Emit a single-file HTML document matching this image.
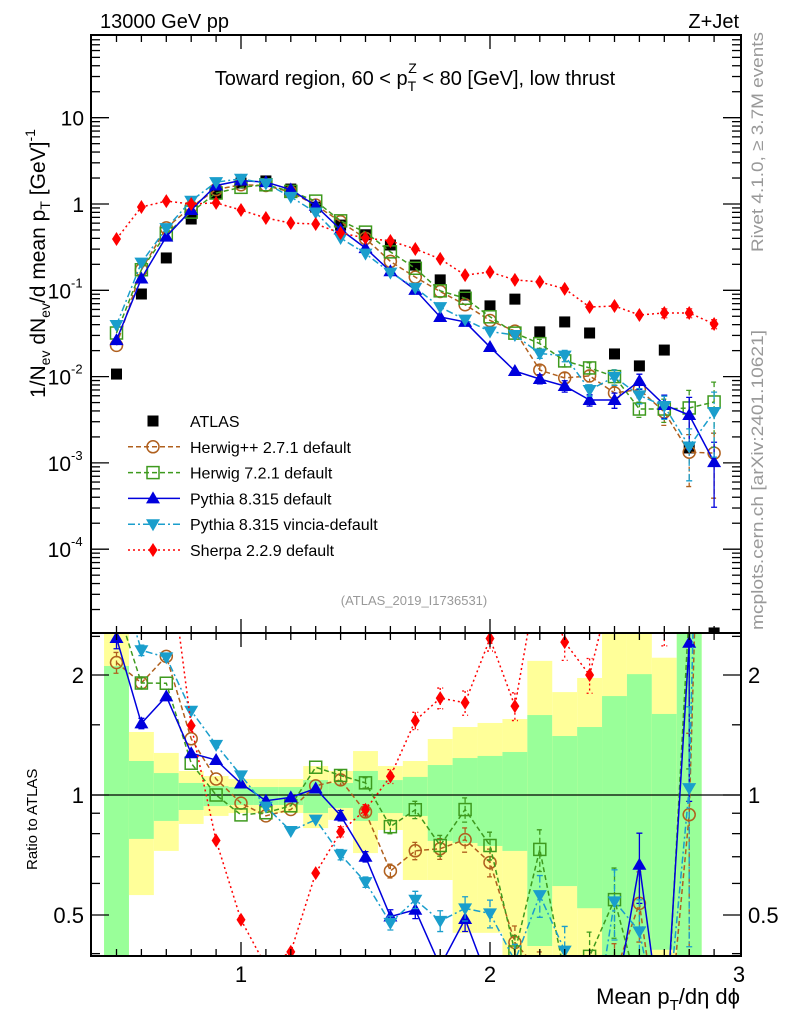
<!DOCTYPE html>
<html><head><meta charset="utf-8"><style>
html,body{margin:0;padding:0;background:#fff;overflow:hidden;width:786px;height:1024px;}
svg{display:block;font-family:"Liberation Sans","DejaVu Sans",sans-serif;}
</style></head><body>
<svg id="chart" width="786" height="1024" viewBox="0 0 786 1024" xmlns="http://www.w3.org/2000/svg">
<defs>
<clipPath id="cm"><rect x="91" y="35" width="650" height="598"/></clipPath>
<clipPath id="cr"><rect x="91" y="633" width="650" height="323"/></clipPath>
</defs>
<g id="bands" clip-path="url(#cr)"></g>
<g id="ratio" clip-path="url(#cr)"></g>
<g id="main" clip-path="url(#cm)"></g>
<g id="axes"></g>
<text x="100" y="28" font-size="20">13000 GeV pp</text>
<text x="739" y="28" font-size="20" text-anchor="end">Z+Jet</text>
<text x="415" y="85" font-size="20" text-anchor="middle">Toward region, 60 &lt; p<tspan font-size="14" dy="6">T</tspan><tspan font-size="14" dx="-8" dy="-18">Z</tspan><tspan dy="12"> &lt; 80 [GeV], low thrust</tspan></text>
<text x="414" y="605" font-size="13" fill="#999" text-anchor="middle">(ATLAS_2019_I1736531)</text>
<text transform="translate(45,398) rotate(-90)" font-size="21">1/N<tspan font-size="14" dy="5">ev</tspan><tspan dy="-5"> dN</tspan><tspan font-size="14" dy="5">ev</tspan><tspan dy="-5">/d mean p</tspan><tspan font-size="14" dy="5">T</tspan><tspan dy="-5"> [GeV]</tspan><tspan font-size="14" dy="-10">-1</tspan></text>
<text transform="translate(37,870) rotate(-90)" font-size="15">Ratio to ATLAS</text>
<text transform="translate(763,252) rotate(-90)" font-size="17" fill="#999" textLength="220" lengthAdjust="spacingAndGlyphs">Rivet 4.1.0, ≥ 3.7M events</text>
<text transform="translate(763,630) rotate(-90)" font-size="17" fill="#999" textLength="300" lengthAdjust="spacingAndGlyphs">mcplots.cern.ch [arXiv:2401.10621]</text>
<text x="740" y="1004" font-size="22" text-anchor="end">Mean p<tspan font-size="15" dy="6">T</tspan><tspan dy="-6">/dη dϕ</tspan></text>
<g id="legend"></g>
</svg>
<script>
const xVals=[0.5,0.6,0.7,0.8,0.9,1.0,1.1,1.2,1.3,1.4,1.5,1.6,1.7,1.8,1.9,2.0,2.1,2.2,2.3,2.4,2.5,2.6,2.7,2.8,2.9];
const atlas=[0.0107,0.0906,0.237,0.67,1.34,1.75,1.85,1.49,0.92,0.57,0.44,0.335,0.196,0.132,0.088,0.066,0.079,0.033,0.043,0.032,0.0183,0.0133,0.0203,0.00149,0.0000107];
const herwigpp=[0.023,0.173,0.528,0.927,1.47,1.67,1.64,1.37,0.97,0.622,0.399,0.216,0.142,0.0968,0.068,0.0447,0.0337,0.0119,0.00964,0.0102,0.00646,0.00711,0.00389,0.00133,0.0013];
const herwig7=[0.032,0.173,0.452,0.805,1.34,1.56,1.67,1.40,1.08,0.638,0.472,0.279,0.180,0.0986,0.0809,0.0493,0.0319,0.0241,0.0152,0.0126,0.0100,0.00421,0.00421,0.00433,0.00508];
const pythia=[0.0265,0.137,0.419,0.853,1.64,1.87,1.79,1.47,0.955,0.506,0.308,0.166,0.101,0.0491,0.043,0.022,0.0116,0.00938,0.00778,0.00536,0.00536,0.00889,0.00469,0.00359,0.00102];
const vincia=[0.0396,0.209,0.525,1.09,1.79,1.96,1.73,1.21,0.798,0.404,0.266,0.160,0.107,0.0638,0.0457,0.0333,0.0303,0.0185,0.0175,0.0070,0.0099,0.00605,0.00456,0.00155,0.00389];
const sherpa=[0.393,0.923,1.08,1.0,1.03,0.851,0.688,0.602,0.586,0.461,0.404,0.373,0.301,0.231,0.150,0.163,0.132,0.125,0.104,0.064,0.0658,0.0518,0.0546,0.0546,0.0407];
const mcRelErr=[0.06,0.03,0.02,0.02,0.02,0.02,0.02,0.02,0.02,0.03,0.03,0.04,0.05,0.06,0.07,0.08,0.1,0.12,0.15,0.15,0.2,0.2,0.3,0.6,0.7];
const sherpaRelErr=[0.03,0.02,0.02,0.02,0.02,0.02,0.02,0.02,0.02,0.03,0.03,0.04,0.05,0.06,0.07,0.07,0.08,0.08,0.1,0.1,0.1,0.1,0.12,0.12,0.12];
const bandGreenHi=[2.107,1.217,1.135,1.072,1.053,1.047,1.047,1.047,1.090,1.072,1.149,1.090,1.110,1.189,1.238,1.253,1.282,1.587,1.406,1.481,1.771,2.01,1.597,3,null];
const bandGreenLo=[0.3,0.776,0.861,0.917,0.938,0.944,0.944,0.944,0.901,0.928,0.861,0.901,0.886,0.767,0.758,0.745,0.724,0.418,0.591,0.520,0.3,0.3,0.409,0.3,null];
const bandYellowHi=[3,1.439,1.275,1.149,1.116,1.097,1.097,1.097,1.182,1.149,1.289,1.182,1.217,1.382,1.481,1.516,1.551,2.17,1.812,1.966,3,3,2.21,3,null];
const bandYellowLo=[0.3,0.561,0.724,0.846,0.886,0.901,0.901,0.901,0.826,0.866,0.715,0.817,0.612,0.612,0.451,0.451,0.3,0.3,0.3,0.3,0.3,0.3,0.3,0.3,null];
const xTickLabels=["1","2","3"];
const mainTickLabels=["10","1","10","10","10","10"];
const mainTickExp=[null,null,"-1","-2","-3","-4"];
const ratioTickLabels=["0.5","1","2"];

const NS="http://www.w3.org/2000/svg";
const X=v=>241+(v-1)*249;
const YM=v=>204-Math.log10(v)*86.3;
const YR=r=>795-Math.log10(r)*398.6;
function mk(tag,attrs,parent){const e=document.createElementNS(NS,tag);for(const k in attrs)e.setAttribute(k,attrs[k]);parent.appendChild(e);return e;}
const gB=document.getElementById('bands'),gR=document.getElementById('ratio'),gM=document.getElementById('main'),gA=document.getElementById('axes'),gL=document.getElementById('legend');

xVals.forEach((v,i)=>{
  if(bandGreenHi[i]==null)return;
  let r=mk('rect',{x:X(v-0.05),width:X(v+0.05)-X(v-0.05),y:YR(bandYellowHi[i]),height:YR(bandYellowLo[i])-YR(bandYellowHi[i]),fill:'#ffff99'},gB);
  
  
  let g=mk('rect',{x:X(v-0.05),width:X(v+0.05)-X(v-0.05),y:YR(bandGreenHi[i]),height:YR(bandGreenLo[i])-YR(bandGreenHi[i]),fill:'#99ff99'},gB);
  
  
});
let one=mk('line',{x1:91,x2:741,y1:YR(1),y2:YR(1),stroke:'#000','stroke-width':1.3},gB);



function marker(type,x,y,color,parent){
  let e;
  if(type==='sq') e=mk('rect',{x:x-5.5,y:y-5.5,width:11,height:11,fill:'#000'},parent);
  else if(type==='circ') e=mk('circle',{cx:x,cy:y,r:6,fill:'none',stroke:color,'stroke-width':1.5},parent);
  else if(type==='osq') e=mk('rect',{x:x-6,y:y-6,width:12,height:12,fill:'none',stroke:color,'stroke-width':1.5},parent);
  else if(type==='tu') e=mk('polygon',{points:`${x},${y-7} ${x-7},${y+5} ${x+7},${y+5}`,fill:color},parent);
  else if(type==='td') e=mk('polygon',{points:`${x},${y+7} ${x-7},${y-5} ${x+7},${y-5}`,fill:color},parent);
  else e=mk('polygon',{points:`${x},${y-7} ${x-4.5},${y} ${x},${y+7} ${x+4.5},${y}`,fill:color},parent);
  return e;
}
const series=[
 {name:'herwigpp',data:herwigpp,err:mcRelErr,color:'#b0601e',m:'circ',dash:'5,3',label:'Herwig++ 2.7.1 default'},
 {name:'herwig7',data:herwig7,err:mcRelErr,color:'#3e9a1e',m:'osq',dash:'5,3',label:'Herwig 7.2.1 default'},
 {name:'pythia',data:pythia,err:mcRelErr,color:'#0000dd',m:'tu',dash:'',label:'Pythia 8.315 default'},
 {name:'vincia',data:vincia,err:mcRelErr,color:'#1a9ecc',m:'td',dash:'7,3,2,3',label:'Pythia 8.315 vincia-default'},
 {name:'sherpa',data:sherpa,err:sherpaRelErr,color:'#ff0000',m:'dia',dash:'2,3',label:'Sherpa 2.2.9 default'}
];
xVals.forEach((v,i)=>{
  const e=marker('sq',X(v),YM(atlas[i]),'#000',gM);
  
  
});
series.forEach(s=>{
  [[gM,(d,i)=>YM(d)],[gR,(d,i)=>YR(d/atlas[i])]].forEach(([grp,fy],pi)=>{
    const pts=xVals.map((v,i)=>X(v)+','+fy(s.data[i],i)).join(' ');
    const pl=mk('polyline',{points:pts,fill:'none',stroke:s.color,'stroke-width':1.5,'stroke-dasharray':s.dash},grp);
    
    
    xVals.forEach((v,i)=>{
      const d=s.data[i],e=s.err[i];
      const lo=pi?(d*(1-e))/atlas[i]:d*(1-e), hi=pi?(d*(1+e))/atlas[i]:d*(1+e);
      const y1=pi?YR(hi):YM(hi), y2=pi?YR(Math.max(lo,1e-9)):YM(Math.max(lo,1e-9));
      if(Math.abs(y2-y1)>8){
        const eb=mk('path',{d:`M${X(v)},${y1}V${y2}M${X(v)-3},${y1}H${X(v)+3}M${X(v)-3},${y2}H${X(v)+3}`,stroke:s.color,'stroke-width':1.3,'stroke-dasharray':s.dash,fill:'none'},grp);
        
        
      }
      const mkr=marker(s.m,X(v),fy(d,i),s.color,grp);
      
      
    });
  });
});

[[35,633],[633,956]].forEach(([t,b],k)=>{
  const f=mk('rect',{x:91,y:t,width:650,height:b-t,fill:'none',stroke:'#000','stroke-width':2},gA);
  
  
});
for(let k=5;k<=29;k++){
  const v=k/10,x=X(v),maj=(k%10===0);
  const L=maj?14:7;
  [[35,1],[633,-1],[633,1],[956,-1]].forEach(([y,dir])=>{
    const t=mk('line',{x1:x,x2:x,y1:y,y2:y+dir*L,stroke:'#000','stroke-width':1.3},gA);
    
    
  });
}
xTickLabels.forEach((l,i)=>{
  const t=mk('text',{x:X(i+1),y:982,'font-size':22,'text-anchor':'middle'},gA);t.textContent=l;
  
  
});
for(let dcd=-5;dcd<=1;dcd++){
  for(let m=1;m<=9;m++){
    const v=m*Math.pow(10,dcd),y=YM(v);
    if(y<35||y>633)continue;
    const L=m===1?18:9;
    [[91,1],[741,-1]].forEach(([x,dir])=>{
      const t=mk('line',{x1:x,x2:x+dir*L,y1:y,y2:y,stroke:'#000','stroke-width':1.3},gA);
      
      
    });
  }
}
mainTickLabels.forEach((l,i)=>{
  const y=YM(Math.pow(10,1-i));
  const t=mk('text',{x:mainTickExp[i]?71:84,y:y+8,'font-size':21,'text-anchor':'end'},gA);t.textContent=l;
  
  
  if(mainTickExp[i]){const s=mk('text',{x:71,y:y-3,'font-size':13},gA);s.textContent=mainTickExp[i];
    
    }
});
[0.4,0.5,0.6,0.7,0.8,0.9,1,1.5,2,2.5].forEach(r=>{
  const y=YR(r),maj=(r===0.5||r===1||r===2);
  [[91,1],[741,-1]].forEach(([x,dir])=>{
    const t=mk('line',{x1:x,x2:x+dir*(maj?18:9),y1:y,y2:y,stroke:'#000','stroke-width':1.3},gA);
    
    
  });
});
ratioTickLabels.forEach(l=>{
  const y=YR(parseFloat(l))+8;
  const a=mk('text',{x:84,y:y,'font-size':22,'text-anchor':'end'},gA);a.textContent=l;
  
  
  const b=mk('text',{x:748,y:y,'font-size':22},gA);b.textContent=l;
  
  
});
const legRows=[{m:'sq',color:'#000',dash:null,label:'ATLAS',name:'atlas'}].concat(series);
legRows.forEach((s,i)=>{
  const y=421+i*25.8;
  const g=mk('g',{},gL);
  
  
  if(s.dash!==null) mk('line',{x1:128,x2:180,y1:y,y2:y,stroke:s.color,'stroke-width':1.5,'stroke-dasharray':s.dash},g);
  marker(s.m,153,y,s.color,g);
  const t=mk('text',{x:190,y:y+6,'font-size':16},g);t.textContent=s.label;
});
</script>
</body></html>
